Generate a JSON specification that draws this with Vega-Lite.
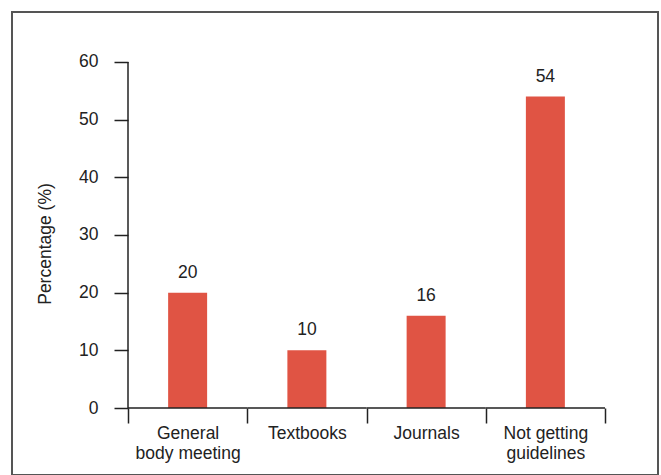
{
  "$schema": "https://vega.github.io/schema/vega-lite/v6.json",
  "width": 646,
  "height": 463,
  "autosize": {"type": "none"},
  "padding": {"left": 12, "top": 12, "right": 3, "bottom": 0},
  "background": "white",
  "config": {
    "view": {"stroke": "#555555", "strokeWidth": 2},
    "font": "Liberation Sans"
  },
  "data": {
    "values": [
      {"category": "General body meeting", "value": 20},
      {"category": "Textbooks", "value": 10},
      {"category": "Journals", "value": 16},
      {"category": "Not getting guidelines", "value": 54}
    ]
  },
  "layer": [
    {
      "mark": {"type": "bar", "color": "#E05444", "width": {"band": 0.327}},
      "encoding": {
        "x": {
          "field": "category",
          "type": "nominal",
          "sort": null,
          "scale": {"paddingInner": 0, "paddingOuter": 0.7086, "align": 0.6864},
          "axis": {
            "orient": "bottom",
            "offset": -67,
            "title": null,
            "domain": false,
            "grid": false,
            "labelAngle": 0,
            "tickBand": "extent",
            "tickSize": 15,
            "tickColor": "#222222",
            "tickWidth": 1.5,
            "labelFontSize": 17.5,
            "labelColor": "#222222",
            "labelPadding": 1,
            "labelLineHeight": 20,
            "labelBaseline": "top",
            "labelExpr": "datum.label == 'General body meeting' ? ['General', 'body meeting'] : datum.label == 'Not getting guidelines' ? ['Not getting', 'guidelines'] : datum.label"
          }
        },
        "y": {
          "field": "value",
          "type": "quantitative",
          "stack": null,
          "scale": {"domain": [-11.618, 68.67], "nice": false, "zero": false},
          "axis": {
            "offset": -116,
            "values": [0, 10, 20, 30, 40, 50, 60],
            "domain": false,
            "grid": false,
            "tickSize": 14,
            "tickColor": "#222222",
            "tickWidth": 1.5,
            "labelFontSize": 17.5,
            "labelColor": "#222222",
            "labelPadding": 16,
            "title": "Percentage (%)",
            "titleFontSize": 17.5,
            "titleFontWeight": "normal",
            "titleColor": "#222222",
            "titlePadding": 24
          }
        },
        "y2": {"datum": 0}
      }
    },
    {
      "mark": {"type": "text", "dy": -20, "fontSize": 17.5, "color": "#222222", "baseline": "middle"},
      "encoding": {
        "x": {"field": "category", "type": "nominal", "sort": null},
        "y": {"field": "value", "type": "quantitative"},
        "text": {"field": "value", "type": "quantitative"}
      }
    },
    {
      "mark": {"type": "bar", "width": {"band": 1}, "filled": false, "stroke": "#222222", "strokeWidth": 1.5},
      "encoding": {
        "x": {"field": "category", "type": "nominal", "sort": null},
        "y": {"datum": 0},
        "y2": {"datum": 0}
      }
    },
    {
      "data": {"values": [{}]},
      "mark": {"type": "rule", "color": "#222222", "strokeWidth": 1.5},
      "encoding": {
        "x": {"datum": "General body meeting", "type": "nominal", "bandPosition": 0},
        "y": {"datum": 0},
        "y2": {"datum": 60}
      }
    }
  ]
}
